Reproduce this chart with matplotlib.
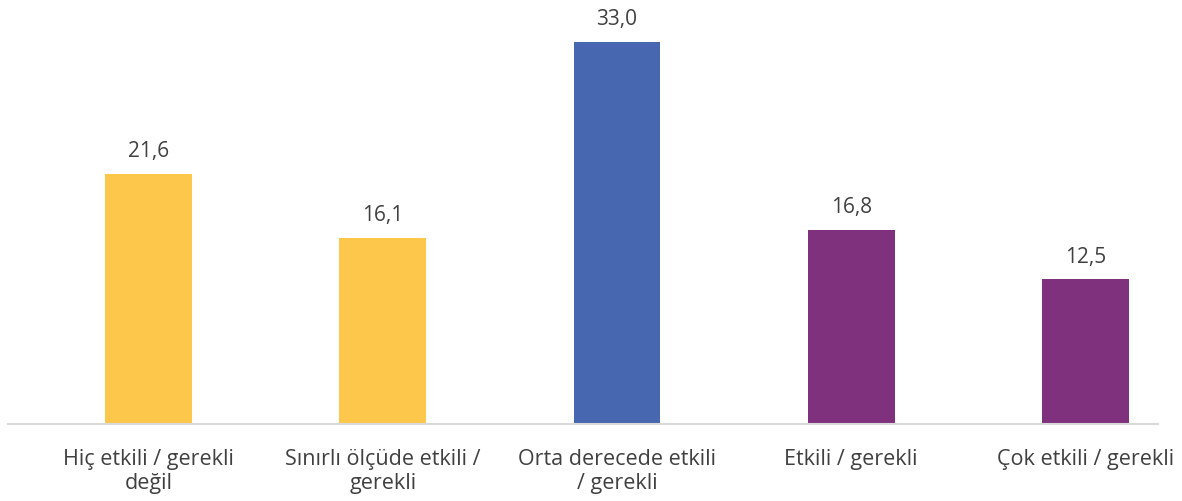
import matplotlib.pyplot as plt

categories = ['Hiç etkili / gerekli\ndeğil', 'Sınırlı ölçüde etkili /\ngerekli',
              'Orta derecede etkili\n/ gerekli', 'Etkili / gerekli', 'Çok etkili / gerekli']
values = [21.6, 16.1, 33.0, 16.8, 12.5]
colors = ['#FCC74A', '#FCC74A', '#4767B0', '#80317E', '#80317E']

plt.rcParams['font.family'] = ['Open Sans', 'DejaVu Sans']

fig = plt.figure(figsize=(11.82, 5.02), dpi=100)
ax = fig.add_axes([8 / 1182, 1 - 425 / 502, (1158 - 8) / 1182, (425 - 43) / 502])

x = range(len(values))
bars = ax.bar(x, values, width=0.37, color=colors)
for b, v in zip(bars, values):
    ax.annotate(f'{v:.1f}'.replace('.', ','), (b.get_x() + b.get_width() / 2, v),
                xytext=(0, 9), textcoords='offset points', ha='center', va='bottom',
                fontsize=15, color='#404040')

ax.set_xlim(-0.6, 4.31)
ax.set_ylim(0, 33.0)
ax.set_xticks(list(x))
ax.set_xticklabels(categories, fontsize=15.5, color='#404040', linespacing=1.2)
ax.tick_params(axis='x', length=0, pad=17)
ax.set_yticks([])
for s in ['top', 'right', 'left']:
    ax.spines[s].set_visible(False)
ax.spines['bottom'].set_color('#D9D9D9')
ax.spines['bottom'].set_linewidth(1.5)

fig.savefig('out.png', dpi=100)
